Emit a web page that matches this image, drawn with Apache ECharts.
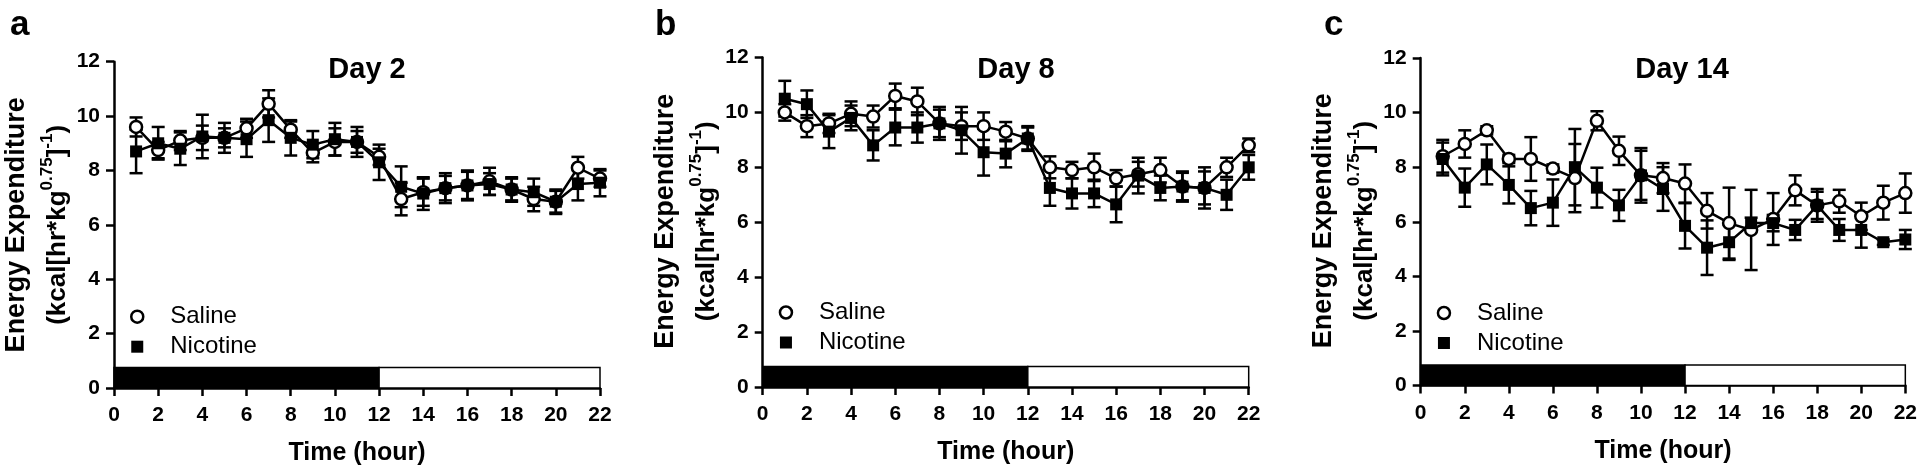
<!DOCTYPE html>
<html>
<head>
<meta charset="utf-8">
<script src="https://cdn.jsdelivr.net/npm/echarts@6/dist/echarts.min.js"></script>
<style>
html,body{margin:0;padding:0;background:#fff;}
#chart{width:1920px;height:471px;}
</style>
</head>
<body>
<div id="chart"></div>
<script>
// ---------------- data ----------------
var hours = [1,2,3,4,5,6,7,8,9,10,11,12,13,14,15,16,17,18,19,20,21,22];
var xTicks = [0,2,4,6,8,10,12,14,16,18,20,22];
var yTicks = [0,2,4,6,8,10,12];
var panelLetters = ['a','b','c'];
var panelTitles = ['Day 2','Day 8','Day 14'];
var groupNames = ['Saline','Nicotine'];

// Day 2
var salineDay2 = [9.6,8.75,9.1,9.2,9.2,9.55,10.45,9.5,8.65,9.05,9.05,8.5,6.95,7.2,7.35,7.45,7.6,7.3,6.95,6.85,8.1,7.7];
var salineDay2Sem = [0.35,0.3,0.35,0.45,0.35,0.35,0.5,0.3,0.35,0.5,0.4,0.3,0.6,0.5,0.45,0.5,0.5,0.4,0.45,0.4,0.4,0.3];
var nicotineDay2 = [8.7,9.0,8.8,9.25,9.2,9.15,9.85,9.2,8.95,9.15,9.05,8.3,7.4,7.15,7.35,7.45,7.5,7.3,7.2,6.85,7.5,7.55];
var nicotineDay2Sem = [0.8,0.6,0.6,0.8,0.55,0.65,0.8,0.65,0.5,0.6,0.55,0.65,0.75,0.6,0.55,0.55,0.4,0.45,0.5,0.45,0.6,0.5];
// Day 8
var salineDay8 = [10.0,9.5,9.6,9.95,9.85,10.6,10.4,9.6,9.5,9.5,9.3,9.05,8.0,7.9,8.0,7.6,7.75,7.9,7.3,7.25,8.0,8.8];
var salineDay8Sem = [0.3,0.4,0.35,0.45,0.4,0.45,0.5,0.5,0.5,0.5,0.35,0.4,0.4,0.3,0.5,0.3,0.45,0.45,0.5,0.6,0.35,0.25];
var nicotineDay8 = [10.5,10.3,9.3,9.8,8.8,9.45,9.45,9.6,9.35,8.55,8.5,9.05,7.25,7.05,7.05,6.65,7.7,7.25,7.3,7.25,7.0,8.0];
var nicotineDay8Sem = [0.65,0.5,0.6,0.45,0.55,0.65,0.55,0.6,0.85,0.85,0.5,0.45,0.65,0.55,0.5,0.65,0.65,0.45,0.55,0.75,0.55,0.45];
// Day 14
var salineDay14 = [8.4,8.85,9.35,8.3,8.3,7.95,7.6,9.7,8.6,7.7,7.6,7.4,6.4,5.95,5.7,6.1,7.15,6.6,6.75,6.2,6.7,7.05];
var salineDay14Sem = [0.6,0.5,0.15,0.15,0.8,0.15,1.25,0.35,0.52,1.0,0.55,0.7,0.65,1.3,1.47,0.95,0.55,0.6,0.42,0.5,0.62,0.72];
var nicotineDay14 = [8.3,7.25,8.1,7.35,6.5,6.7,8.0,7.25,6.6,7.7,7.2,5.85,5.05,5.25,5.95,5.95,5.7,6.6,5.7,5.7,5.25,5.35];
var nicotineDay14Sem = [0.6,0.7,0.73,0.68,0.63,0.85,1.4,0.73,0.57,0.9,0.8,0.83,1.0,0.65,0.2,0.3,0.37,0.5,0.4,0.65,0.1,0.35];

// dark / light phase bar (hours)
var phaseStart = [0,12];
var phaseEnd = [12,22];
var phaseDark = [true,false];
var phaseBarHeight = 0.75;

var salineAll = [salineDay2, salineDay8, salineDay14];
var salineSemAll = [salineDay2Sem, salineDay8Sem, salineDay14Sem];
var nicotineAll = [nicotineDay2, nicotineDay8, nicotineDay14];
var nicotineSemAll = [nicotineDay2Sem, nicotineDay8Sem, nicotineDay14Sem];

// ---------------- layout ----------------
var FONT = '"Liberation Sans", Arial, Helvetica, sans-serif';
var panels = [
  {left:114,   x22:600,    top:61.7, y0:390},
  {left:762.7, x22:1248.7, top:57.5, y0:387},
  {left:1420.7,x22:1906.7, top:58,   y0:385.5}
];
var titleCx = [362, 1011, 1677];
var letterX = [5, 650, 1319];

function zipPts(vals){ return hours.map(function(h,i){ return [h, vals[i]]; }); }
function zipErr(vals, sem){ return hours.map(function(h,i){ return [h, vals[i], sem[i]]; }); }

function renderErr(params, api){
  var x = api.value(0), m = api.value(1), s = api.value(2);
  var t = api.coord([x, m + s]), b = api.coord([x, m - s]);
  var hw = 6.5;
  var st = {stroke:'#000', lineWidth:2.5};
  return {type:'group', children:[
    {type:'line', shape:{x1:t[0],y1:t[1],x2:b[0],y2:b[1]}, style:st},
    {type:'line', shape:{x1:t[0]-hw,y1:t[1],x2:t[0]+hw,y2:t[1]}, style:st},
    {type:'line', shape:{x1:b[0]-hw,y1:b[1],x2:b[0]+hw,y2:b[1]}, style:st}
  ]};
}
function renderPhase(params, api){
  var s = api.value(0), e = api.value(1), h = api.value(2), dark = api.value(3);
  var p0 = api.coord([s, 0]), p1 = api.coord([e, h]);
  return {type:'rect', shape:{x:p0[0], y:p1[1], width:p1[0]-p0[0], height:p0[1]-p1[1]},
    style:{fill: dark ? '#000' : '#fff', stroke:'#000', lineWidth:1.5}};
}

var grids=[], xAxes=[], yAxes=[], series=[], titles=[], legends=[], graphics=[];
panels.forEach(function(p, k){
  grids.push({left:p.left, width:p.x22-p.left, top:p.top, height:p.y0-p.top, containLabel:false});
  xAxes.push({
    type:'value', gridIndex:k, min:xTicks[0], max:xTicks[xTicks.length-1], interval:2,
    name:'Time (hour)', nameLocation:'middle', nameGap:53,
    nameTextStyle:{fontFamily:FONT, fontWeight:'bold', fontSize:25, color:'#000'},
    axisLine:{show:true, onZero:false, lineStyle:{color:'#000', width:2.5}},
    axisTick:{show:true, length:8, lineStyle:{color:'#000', width:2.5}},
    axisLabel:{fontFamily:FONT, fontWeight:'bold', fontSize:21, color:'#000', margin:17},
    splitLine:{show:false}
  });
  yAxes.push({
    type:'value', gridIndex:k, min:yTicks[0], max:yTicks[yTicks.length-1], interval:2,
    axisLine:{show:true, lineStyle:{color:'#000', width:2.5}},
    axisTick:{show:true, length:8, lineStyle:{color:'#000', width:2.5}},
    axisLabel:{fontFamily:FONT, fontWeight:'bold', fontSize:21, color:'#000', margin:14},
    splitLine:{show:false}
  });
  var phaseData = phaseStart.map(function(s,i){ return [s, phaseEnd[i], phaseBarHeight, phaseDark[i]?1:0]; });
  series.push({type:'custom', xAxisIndex:k, yAxisIndex:k, renderItem:renderPhase, data:phaseData,
    encode:{x:[0,1], y:2}, z:1, silent:true});
  series.push({type:'custom', xAxisIndex:k, yAxisIndex:k, renderItem:renderErr,
    data:zipErr(salineAll[k], salineSemAll[k]), encode:{x:0, y:1}, z:2, silent:true});
  series.push({type:'custom', xAxisIndex:k, yAxisIndex:k, renderItem:renderErr,
    data:zipErr(nicotineAll[k], nicotineSemAll[k]), encode:{x:0, y:1}, z:2, silent:true});
  series.push({type:'line', name:groupNames[0], xAxisIndex:k, yAxisIndex:k, data:zipPts(salineAll[k]),
    symbol:'circle', symbolSize:12, z:3,
    itemStyle:{color:'#fff', borderColor:'#000', borderWidth:2.5},
    lineStyle:{color:'#000', width:2.5}, animation:false});
  series.push({type:'line', name:groupNames[1], xAxisIndex:k, yAxisIndex:k, data:zipPts(nicotineAll[k]),
    symbol:'rect', symbolSize:12, z:4,
    itemStyle:{color:'#000', borderColor:'#000', borderWidth:0},
    lineStyle:{color:'#000', width:2.5}, animation:false});

  titles.push({text:panelTitles[k], left:titleCx[k], top:50, textAlign:'center',
    textStyle:{fontFamily:FONT, fontWeight:'bold', fontSize:29, color:'#000'}});
  titles.push({text:panelLetters[k], left:letterX[k], top:3,
    textStyle:{fontFamily:FONT, fontWeight:'bold', fontSize:35, color:'#000'}});

  legends.push({
    orient:'vertical', left:p.left + 11, top:p.top + 238, itemWidth:12, itemHeight:12, itemGap:6,
    data:[
      {name:groupNames[0], icon:'circle', itemStyle:{color:'#fff', borderColor:'#000', borderWidth:2.5}},
      {name:groupNames[1], icon:'rect', itemStyle:{color:'#000', borderWidth:0}}
    ],
    formatter:function(n){ return '{t|' + n + '}'; },
    textStyle:{rich:{t:{fontFamily:FONT, fontSize:24, color:'#000', padding:[0,0,0,22], lineHeight:24}}},
    selectedMode:false
  });

  var cy = (p.top + p.y0)/2 - 1;
  graphics.push({type:'text', x:p.left - 97, y:cy, rotation:Math.PI/2,
    style:{text:'Energy Expenditure', font:'bold 27px ' + FONT, fill:'#000', align:'center', verticalAlign:'middle'}});
  graphics.push({type:'text', x:p.left - 59, y:cy, rotation:Math.PI/2,
    style:{text:'{m|(kcal[hr*kg}{s|0.75}{m|]}{s|-1}{m|)}', fill:'#000', align:'center', verticalAlign:'middle',
      rich:{
        m:{font:'bold 26px ' + FONT, fill:'#000', lineHeight:32, verticalAlign:'bottom'},
        s:{font:'bold 17px ' + FONT, fill:'#000', lineHeight:12, verticalAlign:'top'}
      }}});
});

var chart = echarts.init(document.getElementById('chart'), null, {renderer:'canvas'});
chart.setOption({
  backgroundColor:'#fff',
  animation:false,
  title:titles,
  legend:legends,
  grid:grids,
  xAxis:xAxes,
  yAxis:yAxes,
  series:series,
  graphic:graphics
});
</script>
</body>
</html>
